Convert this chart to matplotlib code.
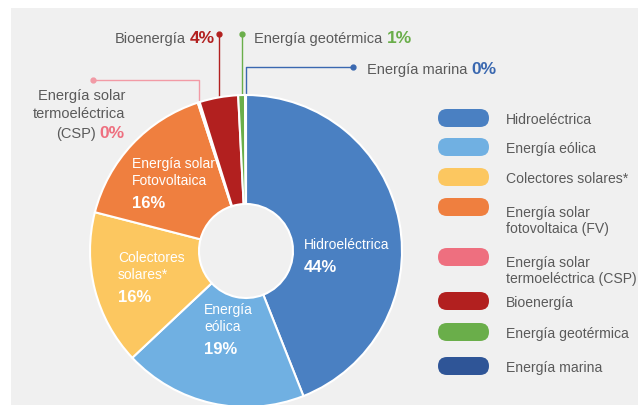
import matplotlib
matplotlib.use("Agg")
import matplotlib.pyplot as plt
from matplotlib.patches import FancyBboxPatch, Rectangle
import numpy as np

plt.rcParams['font.family'] = ['Liberation Sans', 'DejaVu Sans']

# --- data -------------------------------------------------------------
categories = ["Hidroeléctrica", "Energía eólica", "Colectores solares*",
              "Energía solar fotovoltaica (FV)", "Energía solar termoeléctrica (CSP)",
              "Bioenergía", "Energía geotérmica", "Energía marina"]
shares = [44, 19, 16, 16, 0.2, 4, 0.7, 0.1]
colors = ["#4a80c2", "#70b0e2", "#fcc760", "#ef7f3f", "#ee6f7f",
          "#b2201f", "#6aae4a", "#2f5597"]
legend_labels = ["Hidroeléctrica", "Energía eólica", "Colectores solares*",
                 "Energía solar\nfotovoltaica (FV)", "Energía solar\ntermoeléctrica (CSP)",
                 "Bioenergía", "Energía geotérmica", "Energía marina"]
inner_labels = {0: "Hidroeléctrica", 1: "Energía\neólica",
                2: "Colectores\nsolares*", 3: "Energía solar\nFotovoltaica"}
callout_labels = {4: "Energía solar\ntermoeléctrica\n(CSP)", 5: "Bioenergía",
                  6: "Energía geotérmica", 7: "Energía marina"}

TEXT = "#5a5a5a"
FS = 10.5
FS_LEG = 10.1
W, H = 638, 405


def py(v):
    """Top-down pixel row -> axis y."""
    return H - v


fig = plt.figure(figsize=(W / 100, H / 100), dpi=100)
ax = fig.add_axes([0, 0, 1, 1])
ax.add_patch(Rectangle((11, 0), W - 11, H - 8, facecolor="#f0f0f0",
                       edgecolor="none", zorder=0))

cx, cy, R = 246, py(251), 156
wedges, _ = ax.pie(shares, colors=colors, startangle=90, counterclock=False,
                   center=(cx, cy), radius=R, frame=True,
                   wedgeprops=dict(width=R - 47, edgecolor="white", linewidth=1.5))
for w in wedges:
    w.set_zorder(2)

ax.set_xlim(0, W)
ax.set_ylim(0, H)
ax.set_aspect("auto")
ax.axis("off")


def pct(v):
    return f"{v:.0f}%"


# --- labels inside the ring ------------------------------------------
inner_pos = {0: (304, 245), 1: (204, 310), 2: (118, 258), 3: (132, 164)}
for i, txt in inner_labels.items():
    x, y = inner_pos[i]
    lines = txt.split("\n")
    for k, line in enumerate(lines):
        ax.text(x, py(y + 17 * k), line, color="white", fontsize=10,
                ha="left", va="center", zorder=3)
    ax.text(x, py(y + 17 * (len(lines) - 1) + 22), pct(shares[i]), color="white",
            fontsize=12, fontweight="bold", ha="left", va="center", zorder=3)


# --- callouts for the thin wedges ------------------------------------
def rim_point(i):
    w = wedges[i]
    th = np.deg2rad((w.theta1 + w.theta2) / 2)
    return cx + R * np.cos(th), cy + R * np.sin(th)


def leader(i, y_end, x_end=None, color=None):
    x0, y0 = rim_point(i)
    xs, ys = [x0, x0], [y0, py(y_end)]
    if x_end is not None:
        xs.append(x_end)
        ys.append(py(y_end))
    ax.plot(xs, ys, color=color, lw=1.0, zorder=1.5, solid_capstyle="butt")
    ax.plot(xs[-1], ys[-1], "o", color=color, ms=3.5, zorder=1.5)


leader(4, 80, 93, color="#f29aa5")
leader(5, 34, color=colors[5])
leader(6, 34, color=colors[6])
leader(7, 67, 353, color="#3a68b0")

# CSP (right aligned block)
csp_lines = callout_labels[4].split("\n")
for k, line in enumerate(csp_lines[:-1]):
    ax.text(125, py(100 + 18.5 * k), line, color=TEXT, fontsize=FS,
            ha="right", va="baseline")
p = ax.text(125, py(138), pct(shares[4]), color=colors[4], fontsize=12.5,
            fontweight="bold", ha="right", va="baseline")
ax.annotate(csp_lines[-1], xy=(0, py(138)), xycoords=(p, "data"),
            xytext=(-3, 0), textcoords="offset points",
            color=TEXT, fontsize=FS, ha="right", va="baseline")

# Bioenergía (right aligned)
p = ax.text(215, py(43), pct(shares[5]), color=colors[5], fontsize=12.5,
            fontweight="bold", ha="right", va="baseline")
ax.annotate(callout_labels[5], xy=(0, py(43)), xycoords=(p, "data"),
            xytext=(-3, 0), textcoords="offset points",
            color=TEXT, fontsize=FS, ha="right", va="baseline")

# Geotérmica (left aligned)
t = ax.text(254, py(43), callout_labels[6], color=TEXT, fontsize=FS,
            ha="left", va="baseline")
ax.annotate(pct(shares[6]), xy=(1, py(43)), xycoords=(t, "data"),
            xytext=(3, 0), textcoords="offset points", color=colors[6],
            fontsize=12.5, fontweight="bold", ha="left", va="baseline")

# Marina (left aligned)
t = ax.text(367, py(74), callout_labels[7], color=TEXT, fontsize=FS,
            ha="left", va="baseline")
ax.annotate(pct(shares[7]), xy=(1, py(74)), xycoords=(t, "data"),
            xytext=(3, 0), textcoords="offset points", color="#3a68b0",
            fontsize=12.5, fontweight="bold", ha="left", va="baseline")

# --- legend -----------------------------------------------------------
row_centers = [118, 147, 177, 207, 257, 301, 332, 366]
for lab, col, yc in zip(legend_labels, colors, row_centers):
    ax.add_patch(FancyBboxPatch((438, py(yc) - 9), 51, 18,
                                boxstyle="round,pad=0,rounding_size=9",
                                facecolor=col, edgecolor="none", zorder=2))
    lines = lab.split("\n")
    base = yc + 6 if len(lines) == 1 else yc + 10
    for k, line in enumerate(lines):
        ax.text(506, py(base + 16.5 * k), line, color=TEXT, fontsize=FS_LEG,
                ha="left", va="baseline")

fig.savefig("out.png", dpi=100)
